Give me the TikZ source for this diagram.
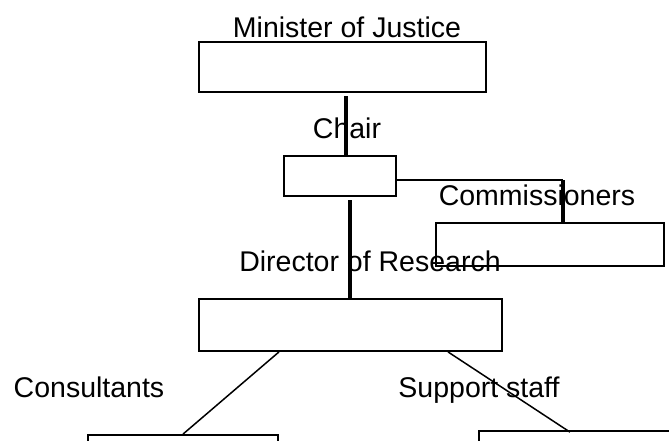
\documentclass[tikz,border=0pt]{standalone}
\usepackage{fontspec}
\setmainfont{Liberation Sans}
\usetikzlibrary{calc}
\definecolor{orgBlack}{RGB}{0,0,0}
\tikzset{
  orgbox/.style={draw=orgBlack,line width=1.8pt,minimum width=#1,inner sep=0pt},
  orglabel/.style={anchor=base,inner sep=0pt,font=\fontsize{28.5}{32}\selectfont},
  thinline/.style={draw=orgBlack,line width=1.5pt},
  heavyline/.style={draw=orgBlack,line width=3.4pt}
}
\begin{document}
\begin{tikzpicture}[x=1pt,y=-1pt]

    \useasboundingbox (0,0) rectangle (669,440);
    \clip (0,0) rectangle (669,440);

    % boxes
    \node[orgbox=287pt,minimum height=50pt] (minister) at (342.5,67) {};
    \node[orgbox=112pt,minimum height=40pt] (chair) at (340,176) {};
    \node[orgbox=228pt,minimum height=43pt] (comm) at (550,244.5) {};
    \node[orgbox=303pt,minimum height=52pt] (director) at (350.5,325) {};
    \node[orgbox=190pt,minimum height=50pt] (consult) at (183,460) {};
    \node[orgbox=242pt,minimum height=50pt] (support) at (600,456) {};

    % connectors
    \coordinate (mjtail) at (346,96);
    \draw[heavyline] (mjtail) -- (mjtail |- chair.north);
    \coordinate (cmknee) at (563,180);
    \draw[thinline] (cmknee -| chair.east) -- (cmknee);
    \draw[heavyline] (cmknee) -- (cmknee |- comm.north);
    \coordinate (drtop) at (350,200);
    \draw[heavyline] (drtop) -- (drtop |- director.north);
    \draw[thinline] ($(director.south)+(-71.5,0)$) -- (consult.north);
    \draw[thinline] ($(director.south)+(97.5,0)$) -- ($(support.north)+(-30,2)$);

    % labels
    \node[orglabel] (tminister) at (347,37) {Minister of Justice};
    \node[orglabel] (tchair) at (347,138) {Chair};
    \node[orglabel] (tcomm) at (537,205) {Commissioners};
    \node[orglabel] (tdirector) at (370,271) {Director of Research};
    \node[orglabel] (tconsult) at (89,397) {Consultants};
    \node[orglabel] (tsupport) at (479,397) {Support staff};

  \end{tikzpicture}
\end{document}
